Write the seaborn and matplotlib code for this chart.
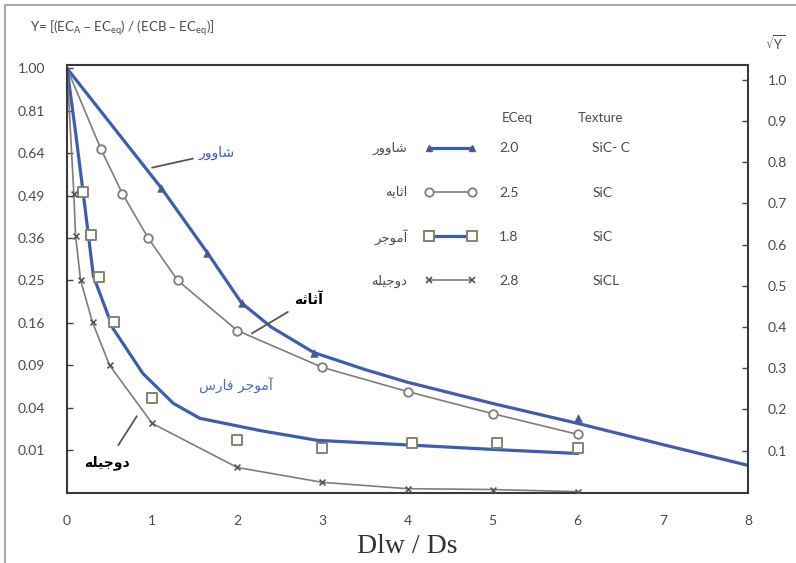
import matplotlib
matplotlib.use("Agg")
import matplotlib.pyplot as plt
from matplotlib.lines import Line2D
from matplotlib.patches import Rectangle
import seaborn as sns

# values are sqrt(Y)
shavur_line_x = [0, 1.1, 1.65, 2.05, 2.4, 2.9, 3.5, 4, 5, 6, 7, 8]
shavur_line_y = [1.0, 0.72, 0.565, 0.447, 0.39, 0.33, 0.29, 0.26, 0.21, 0.163, 0.113, 0.064]
shavur_x = [1.1, 1.65, 2.05, 2.9, 6.0]
shavur_y = [0.717, 0.564, 0.446, 0.33, 0.175]

asaye_x = [0.4, 0.65, 0.95, 1.3, 2, 3, 4, 5, 6]
asaye_y = [0.809, 0.705, 0.601, 0.5, 0.382, 0.295, 0.238, 0.186, 0.137]

amujar_line_x = [0, 0.1, 0.2, 0.31, 0.54, 0.89, 1.25, 1.56, 2.27, 2.94, 3.92, 5.06, 6.0]
amujar_line_y = [1.0, 0.85, 0.69, 0.51, 0.387, 0.281, 0.21, 0.175, 0.146, 0.123, 0.113, 0.101, 0.092]
amujar_x = [0.19, 0.28, 0.38, 0.55, 1.0, 2.0, 3.0, 4.05, 5.05, 6.0]
amujar_y = [0.708, 0.608, 0.507, 0.403, 0.224, 0.125, 0.106, 0.116, 0.116, 0.104]

dojeyle_x = [0.08, 0.1, 0.16, 0.3, 0.5, 1.0, 2.0, 3.0, 4.0, 5.0, 6.0]
dojeyle_y = [0.705, 0.606, 0.5, 0.401, 0.30, 0.163, 0.059, 0.024, 0.009, 0.007, 0.002]

# persian names, written in presentation forms, visual order (matplotlib has no shaping)
shavur_name = "\uFEAD\uFEED\uFEED\uFE8E\uFEB7"          # شاوور
asaye_name = "\uFEEA\uFEF3\uFE8E\uFE9B\uFE8D"           # اثایه
asase_label = "\uFEEA\uFE9B\uFE8E\uFE9B\uFE81"          # آثاثه
amujar_name = "\uFEAE\uFE9F\uFEEE\uFEE3\uFE81"          # آموجر
amujar_fars = "\uFEB1\uFEAD\uFE8E\uFED3 " + amujar_name  # آموجر فارس
dojeyle_name = "\uFEEA\uFEE0\uFEF4\uFE9F\uFEED\uFEA9"   # دوجیله

legend_names = [shavur_name, asaye_name, amujar_name, dojeyle_name]
ec_eq = ["2.0", "2.5", "1.8", "2.8"]
textures = ["SiC- C", "SiC", "SiC", "SiCL"]

x_ticks = [0, 1, 2, 3, 4, 5, 6, 7, 8]
sqrt_ticks = [0.1, 0.2, 0.3, 0.4, 0.5, 0.6, 0.7, 0.8, 0.9, 1.0]

BLUE = "#3d5eae"
TRI = "#4a5a8e"
GRAY = "#7d7d7d"
DARK = "#555555"
SQ = "#80866a"
TXT = "#4a4a4a"

sns.set_theme(style="white")
plt.rcParams["font.family"] = ["Lato", "DejaVu Sans"]

fig = plt.figure(figsize=(7.96, 5.63), dpi=100)
ax = fig.add_axes([0.0842, 0.1252, 0.8555, 0.7593])

sns.lineplot(x=shavur_line_x, y=shavur_line_y, color=BLUE, lw=2.3, ax=ax, estimator=None)
sns.lineplot(x=[0] + asaye_x, y=[1.0] + asaye_y, color=GRAY, lw=1.2, ax=ax, estimator=None)
sns.lineplot(x=amujar_line_x, y=amujar_line_y, color=BLUE, lw=2.3, ax=ax, estimator=None)
sns.lineplot(x=[0] + dojeyle_x, y=[1.0] + dojeyle_y, color=GRAY, lw=1.2, ax=ax, estimator=None)

sns.scatterplot(x=shavur_x, y=shavur_y, marker="^", s=30, color=TRI, edgecolor=TRI, ax=ax, zorder=4)
sns.scatterplot(x=asaye_x, y=asaye_y, marker="o", s=38, color="white", edgecolor=GRAY, linewidth=1.3, ax=ax, zorder=4)
sns.scatterplot(x=amujar_x, y=amujar_y, marker="s", s=48, color="white", edgecolor=SQ, linewidth=1.4, ax=ax, zorder=4)
sns.scatterplot(x=dojeyle_x, y=dojeyle_y, marker="x", s=18, color=DARK, linewidth=1.2, ax=ax, zorder=4)

ax.set_xlim(0, 8)
ax.set_ylim(0, 1.008)
ax.set_xticks(x_ticks)
ax.set_xticklabels([str(v) for v in x_ticks])
ax.set_yticks(sqrt_ticks)
ax.set_yticklabels([f"{v * v:.2f}" for v in sqrt_ticks])
ax.tick_params(axis="both", direction="in", length=4, width=1, color="#444444", labelcolor=TXT, labelsize=10)
ax.tick_params(axis="x", pad=16)
ax.tick_params(axis="y", pad=16)
for sp in ax.spines.values():
    sp.set_color("#3a3a3a")
    sp.set_linewidth(1.5)
ax.set_xlabel("Dlw / Ds", fontfamily="Liberation Serif", fontsize=20, color="#333333", labelpad=5)
ax.set_ylabel("")

ax2 = ax.twinx()
ax2.set_ylim(-0.002, 1.036)
ax2.set_yticks(sqrt_ticks)
ax2.set_yticklabels([f"{v:.1f}" for v in sqrt_ticks])
ax2.tick_params(axis="y", direction="in", length=4, width=1, color="#444444", labelcolor=TXT, labelsize=10, pad=14)
ax2.spines[:].set_visible(False)
ax2.grid(False)

# legend table
handles = [
    Line2D([], [], color=BLUE, lw=2.3, marker="^", ms=5, mfc=TRI, mec=TRI),
    Line2D([], [], color=GRAY, lw=1.2, marker="o", ms=6, mfc="white", mec=GRAY, mew=1.3),
    Line2D([], [], color=BLUE, lw=2.3, marker="s", ms=6.5, mfc="white", mec=SQ, mew=1.4),
    Line2D([], [], color=GRAY, lw=1.2, marker="x", ms=5, mec=DARK, mew=1.2),
]
leg = ax.legend(handles, ec_eq, loc="upper left", bbox_to_anchor=(0.526, 0.819), frameon=False,
                numpoints=2, handlelength=3.7, handletextpad=1.6, labelspacing=2.32,
                borderpad=0, borderaxespad=0, fontsize=10, labelcolor=TXT)
ax.text(0.639, 0.876, "ECeq", transform=ax.transAxes, fontsize=9.5, color=TXT, va="center")
ax.text(0.750, 0.876, "Texture", transform=ax.transAxes, fontsize=9.5, color=TXT, va="center")

fig.canvas.draw()
inv = ax.transAxes.inverted()
for t, name, tex in zip(leg.get_texts(), legend_names, textures):
    bb = t.get_window_extent()
    yc = inv.transform((0, (bb.y0 + bb.y1) / 2))[1]
    ax.text(0.500, yc, name, transform=ax.transAxes, fontsize=9.5, color=TXT, ha="right", va="center",
            family=["DejaVu Sans"])
    ax.text(0.771, yc, tex, transform=ax.transAxes, fontsize=10, color=TXT, ha="left", va="center")

# curve labels
ax.annotate(shavur_name, xy=(1.0, 0.766), xytext=(1.55, 0.80), color=BLUE, fontsize=10,
            va="center", ha="left", family=["DejaVu Sans"],
            arrowprops=dict(arrowstyle="-", color="#555555", lw=1.3, shrinkA=2, shrinkB=0))
ax.annotate(asase_label, xy=(2.17, 0.375), xytext=(2.67, 0.455), color="black", fontsize=10,
            fontweight="bold", va="center", ha="left", family=["DejaVu Sans"],
            arrowprops=dict(arrowstyle="-", color="#555555", lw=1.3, shrinkA=3, shrinkB=0))
ax.text(1.98, 0.252, amujar_fars, color="#4a6cc0", fontsize=10, ha="center", va="center", family=["DejaVu Sans"])
ax.annotate(dojeyle_name, xy=(0.82, 0.18), xytext=(0.47, 0.07), color="black", fontsize=10,
            fontweight="bold", va="center", ha="center", family=["DejaVu Sans"],
            arrowprops=dict(arrowstyle="-", color="#555555", lw=1.3, shrinkA=6, shrinkB=0))

fig.text(0.038, 0.950, r"Y= [(EC$_\mathregular{A}$ – EC$_\mathregular{eq}$) / (ECB – EC$_\mathregular{eq}$)]",
         fontsize=9.5, color=TXT, va="center")
fig.text(0.961, 0.925, r"$\sqrt{\mathregular{Y}}$", fontsize=9, color=TXT, va="center")

fig.patches.append(Rectangle((5 / 796, -0.1), 2, 1.1 - 5 / 563, transform=fig.transFigure,
                             fill=False, edgecolor="#aaaaaa", lw=1.5, clip_on=False))

fig.savefig("out.png", dpi=100)
